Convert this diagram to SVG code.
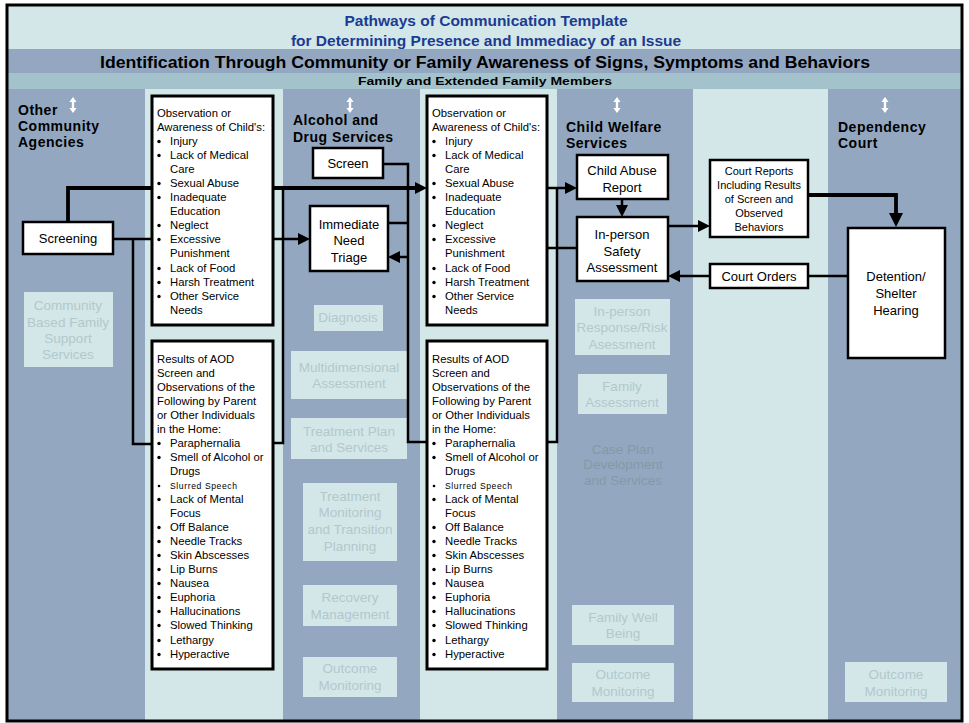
<svg xmlns="http://www.w3.org/2000/svg" width="969" height="723" viewBox="0 0 969 723">
  <defs>
    <style>
      .dark { fill: #93a8c0; }
      .light { fill: #d3e7e8; }
      .title { font-family: "Liberation Sans", Arial, sans-serif; font-weight: bold; fill: #1c3b93; font-size: 15.5px; text-anchor: middle; }
      .band { font-family: "Liberation Sans", Arial, sans-serif; font-weight: bold; fill: #000; text-anchor: middle; }
      .hdr { font-family: "Liberation Sans", Arial, sans-serif; font-weight: bold; font-size: 14px; letter-spacing: 0.5px; fill: #000; }
      .box { fill: #fff; stroke: #000; stroke-width: 2.5; }
      .listbox { fill: #fff; stroke: #000; stroke-width: 3; }
      .lbl { font-family: "Liberation Sans", Arial, sans-serif; font-size: 13px; fill: #000; text-anchor: middle; }
      .small { font-size: 11px; }
      .item { font-family: "Liberation Sans", Arial, sans-serif; font-size: 11.3px; fill: #000; }
      .tiny { font-size: 8.6px; letter-spacing: 0.6px; }
      .dot { fill: #000; }
      .ghost rect { fill: #d3e7e8; }
      .ghost text { font-family: "Liberation Sans", Arial, sans-serif; font-size: 13.5px; fill: #b2c8cd; text-anchor: middle; }
      .faint { font-family: "Liberation Sans", Arial, sans-serif; font-size: 13.5px; fill: #8499a8; text-anchor: middle; }
      .wire { fill: none; stroke: #000; stroke-width: 2.5; }
      .bus { stroke-width: 3.8; }
    </style>
    <marker id="head" viewBox="0 0 12 12" refX="1" refY="6" markerWidth="12" markerHeight="12" markerUnits="userSpaceOnUse" orient="auto">
      <path d="M0,0 L12,6 L0,12 Z" fill="#000"/>
    </marker>
    <marker id="headBig" viewBox="0 0 14 14" refX="1" refY="7" markerWidth="14" markerHeight="14" markerUnits="userSpaceOnUse" orient="auto">
      <path d="M0,0 L14,7 L0,14 Z" fill="#000"/>
    </marker>
    <path id="updown" d="M0,0 L3.6,5 L1.2,5 L1.2,11 L3.6,11 L0,16 L-3.6,11 L-1.2,11 L-1.2,5 L-3.6,5 Z" fill="#fff"/>
  </defs>

  <!-- background bands and swim lanes -->
  <rect x="0" y="0" width="969" height="723" fill="#fff"/>
  <rect x="7" y="5" width="955" height="44" class="light"/>
  <rect x="7" y="49" width="955" height="24" class="dark"/>
  <rect x="7" y="73" width="955" height="16" fill="#a4c2cb"/>
  <rect x="7" y="89" width="138" height="632" class="dark"/>
  <rect x="145" y="89" width="138" height="632" class="light"/>
  <rect x="283" y="89" width="137" height="632" class="dark"/>
  <rect x="420" y="89" width="137" height="632" class="light"/>
  <rect x="557" y="89" width="136" height="632" class="dark"/>
  <rect x="693" y="89" width="135" height="632" class="light"/>
  <rect x="828" y="89" width="134" height="632" class="dark"/>
  <rect x="7" y="5" width="955" height="716" fill="none" stroke="#000" stroke-width="3"/>

  <!-- headings -->
  <text class="title" x="486" y="26">Pathways of Communication Template</text>
  <text class="title" x="486" y="46">for Determining Presence and Immediacy of an Issue</text>
  <text class="band" x="485" y="68" font-size="16" textLength="770" lengthAdjust="spacingAndGlyphs">Identification Through Community or Family Awareness of Signs, Symptoms and Behaviors</text>
  <text class="band" x="485" y="85" font-size="11.5" textLength="254" lengthAdjust="spacingAndGlyphs">Family and Extended Family Members</text>

  <!-- lane titles -->
  <g id="lane-community">
    <text class="hdr" x="18" y="115">Other</text>
    <text class="hdr" x="18" y="131">Community</text>
    <text class="hdr" x="18" y="147">Agencies</text>
    <use href="#updown" x="73" y="97"/>
  </g>
  <g id="lane-aod">
    <text class="hdr" x="293" y="125">Alcohol and</text>
    <text class="hdr" x="293" y="142">Drug Services</text>
    <use href="#updown" x="350" y="97"/>
  </g>
  <g id="lane-cws">
    <text class="hdr" x="566" y="132">Child Welfare</text>
    <text class="hdr" x="566" y="148">Services</text>
    <use href="#updown" x="617" y="97"/>
  </g>
  <g id="lane-court">
    <text class="hdr" x="838" y="132">Dependency</text>
    <text class="hdr" x="838" y="148">Court</text>
    <use href="#updown" x="885" y="97"/>
  </g>

  <!-- later-stage services (muted) -->
  <g class="ghost">
    <g id="cbfs"><rect x="24" y="292" width="89" height="75"/>
      <text x="68" y="310">Community</text><text x="68" y="327">Based Family</text><text x="68" y="343">Support</text><text x="68" y="359">Services</text></g>
    <g id="diagnosis"><rect x="314" y="305" width="69" height="26"/><text x="348" y="322">Diagnosis</text></g>
    <g id="multi"><rect x="291" y="351" width="116" height="48"/><text x="349" y="372">Multidimensional</text><text x="349" y="388">Assessment</text></g>
    <g id="txplan"><rect x="291" y="418" width="116" height="41"/><text x="349" y="436">Treatment Plan</text><text x="349" y="452">and Services</text></g>
    <g id="txmon"><rect x="303" y="483" width="94" height="78"/><text x="350" y="501">Treatment</text><text x="350" y="517">Monitoring</text><text x="350" y="534">and Transition</text><text x="350" y="551">Planning</text></g>
    <g id="recovery"><rect x="303" y="585" width="94" height="41"/><text x="350" y="602">Recovery</text><text x="350" y="619">Management</text></g>
    <g id="outcome-aod"><rect x="303" y="657" width="94" height="40"/><text x="350" y="673">Outcome</text><text x="350" y="690">Monitoring</text></g>
    <g id="response"><rect x="575" y="299" width="95" height="56"/><text x="622" y="316">In-person</text><text x="622" y="332">Response/Risk</text><text x="622" y="349">Asessment</text></g>
    <g id="famassess"><rect x="578" y="374" width="89" height="40"/><text x="622" y="391">Family</text><text x="622" y="407">Assessment</text></g>
    <g id="wellbeing"><rect x="572" y="605" width="102" height="40"/><text x="623" y="622">Family Well</text><text x="623" y="638">Being</text></g>
    <g id="outcome-cws"><rect x="572" y="663" width="102" height="39"/><text x="623" y="679">Outcome</text><text x="623" y="696">Monitoring</text></g>
    <g id="outcome-court"><rect x="845" y="662" width="102" height="40"/><text x="896" y="679">Outcome</text><text x="896" y="696">Monitoring</text></g>
  </g>
  <g id="caseplan">
    <text class="faint" x="623" y="454">Case Plan</text>
    <text class="faint" x="623" y="469">Development</text>
    <text class="faint" x="623" y="485">and Services</text>
  </g>

  <!-- connectors -->
  <g id="connectors">
    <path class="wire bus" d="M68,222 V188 H416" marker-end="url(#head)"/>
    <path class="wire" d="M113,239 H152"/>
    <path class="wire" d="M133,239 V444 H152"/>
    <path class="wire" d="M283,188 V443 H273"/>
    <path class="wire" d="M273,239 H299" marker-end="url(#head)"/>
    <path class="wire" d="M383,164 H408 V442 H427"/>
    <path class="wire" d="M388,223 H408"/>
    <path class="wire" d="M408,257 H399" marker-end="url(#head)"/>
    <path class="wire" stroke-width="3" d="M547,188 H566" marker-end="url(#head)"/>
    <path class="wire" d="M557,188 V442 H547"/>
    <path class="wire" d="M547,248 H577"/>
    <path class="wire" d="M622,199 V206" marker-end="url(#head)"/>
    <path class="wire" d="M668,226 H699" marker-end="url(#head)"/>
    <path class="wire bus" d="M808,195 H896 V214" marker-end="url(#headBig)"/>
    <path class="wire" d="M848,276 H808"/>
    <path class="wire" d="M710,276 H679" marker-end="url(#head)"/>
  </g>

  <!-- process nodes -->
  <g id="screening"><rect class="box" x="23" y="222" width="90" height="32"/><text class="lbl" x="68" y="243">Screening</text></g>
  <g id="screen"><rect class="box" x="313" y="148" width="70" height="30"/><text class="lbl" x="348" y="168">Screen</text></g>
  <g id="triage"><rect class="box" x="310" y="206" width="78" height="65"/>
    <text class="lbl" x="349" y="229">Immediate</text><text class="lbl" x="349" y="245">Need</text><text class="lbl" x="349" y="262">Triage</text></g>
  <g id="abuse-report"><rect class="box" x="577" y="155" width="91" height="44"/>
    <text class="lbl" x="622" y="175">Child Abuse</text><text class="lbl" x="622" y="192">Report</text></g>
  <g id="safety"><rect class="box" x="577" y="217" width="91" height="64"/>
    <text class="lbl" x="622" y="239">In-person</text><text class="lbl" x="622" y="256">Safety</text><text class="lbl" x="622" y="272">Assessment</text></g>
  <g id="court-reports"><rect class="box" x="710" y="160" width="98" height="77"/>
    <text class="lbl small" x="759" y="175">Court Reports</text><text class="lbl small" x="759" y="189">Including Results</text>
    <text class="lbl small" x="759" y="203">of Screen and</text><text class="lbl small" x="759" y="217">Observed</text><text class="lbl small" x="759" y="231">Behaviors</text></g>
  <g id="court-orders"><rect class="box" x="710" y="264" width="98" height="24"/><text class="lbl" font-size="12" x="759" y="281">Court Orders</text></g>
  <g id="hearing"><rect class="box" x="848" y="228" width="97" height="130"/>
    <text class="lbl" x="896" y="281">Detention/</text><text class="lbl" x="896" y="298">Shelter</text><text class="lbl" x="896" y="315">Hearing</text></g>

  <!-- observation checklist, community side -->
  <g id="obs-community">
    <rect class="listbox" x="152" y="96" width="121" height="229"/>
    <g class="item">
      <text x="157" y="117">Observation or</text>
      <text x="157" y="131">Awareness of Child's:</text>
      <text x="170" y="145">Injury</text>
      <text x="170" y="159">Lack of Medical</text>
      <text x="170" y="173">Care</text>
      <text x="170" y="187">Sexual Abuse</text>
      <text x="170" y="201">Inadequate</text>
      <text x="170" y="215">Education</text>
      <text x="170" y="229">Neglect</text>
      <text x="170" y="243">Excessive</text>
      <text x="170" y="257">Punishment</text>
      <text x="170" y="272">Lack of Food</text>
      <text x="170" y="286">Harsh Treatment</text>
      <text x="170" y="300">Other Service</text>
      <text x="170" y="314">Needs</text>
    </g>
    <g class="dot">
      <circle cx="159" cy="141.5" r="1.7"/><circle cx="159" cy="155.5" r="1.7"/><circle cx="159" cy="183.5" r="1.7"/>
      <circle cx="159" cy="197.5" r="1.7"/><circle cx="159" cy="225.5" r="1.7"/><circle cx="159" cy="239.5" r="1.7"/>
      <circle cx="159" cy="268.5" r="1.7"/><circle cx="159" cy="282.5" r="1.7"/><circle cx="159" cy="296.5" r="1.7"/>
    </g>
  </g>

  <!-- AOD results checklist, community side -->
  <g id="aod-community">
    <rect class="listbox" x="152" y="341" width="121" height="328"/>
    <g class="item">
      <text x="157" y="363">Results of AOD</text>
      <text x="157" y="377">Screen and</text>
      <text x="157" y="391">Observations of the</text>
      <text x="157" y="405">Following by Parent</text>
      <text x="157" y="419">or Other Individuals</text>
      <text x="157" y="433">in the Home:</text>
      <text x="170" y="447">Paraphernalia</text>
      <text x="170" y="461">Smell of Alcohol or</text>
      <text x="170" y="475">Drugs</text>
      <text x="170" y="489" class="tiny">Slurred Speech</text>
      <text x="170" y="503">Lack of Mental</text>
      <text x="170" y="517">Focus</text>
      <text x="170" y="531">Off Balance</text>
      <text x="170" y="545">Needle Tracks</text>
      <text x="170" y="559">Skin Abscesses</text>
      <text x="170" y="573">Lip Burns</text>
      <text x="170" y="587">Nausea</text>
      <text x="170" y="601">Euphoria</text>
      <text x="170" y="615">Hallucinations</text>
      <text x="170" y="629">Slowed Thinking</text>
      <text x="170" y="644">Lethargy</text>
      <text x="170" y="658">Hyperactive</text>
    </g>
    <g class="dot">
      <circle cx="159" cy="443.5" r="1.7"/><circle cx="159" cy="457.5" r="1.7"/><circle cx="159" cy="486" r="1.3"/>
      <circle cx="159" cy="499.5" r="1.7"/><circle cx="159" cy="527.5" r="1.7"/><circle cx="159" cy="541.5" r="1.7"/>
      <circle cx="159" cy="555.5" r="1.7"/><circle cx="159" cy="569.5" r="1.7"/><circle cx="159" cy="583.5" r="1.7"/>
      <circle cx="159" cy="597.5" r="1.7"/><circle cx="159" cy="611.5" r="1.7"/><circle cx="159" cy="625.5" r="1.7"/>
      <circle cx="159" cy="640.5" r="1.7"/><circle cx="159" cy="654.5" r="1.7"/>
    </g>
  </g>

  <!-- observation checklist, AOD side -->
  <g id="obs-aod">
    <rect class="listbox" x="427" y="96" width="120" height="229"/>
    <g class="item">
      <text x="432" y="117">Observation or</text>
      <text x="432" y="131">Awareness of Child's:</text>
      <text x="445" y="145">Injury</text>
      <text x="445" y="159">Lack of Medical</text>
      <text x="445" y="173">Care</text>
      <text x="445" y="187">Sexual Abuse</text>
      <text x="445" y="201">Inadequate</text>
      <text x="445" y="215">Education</text>
      <text x="445" y="229">Neglect</text>
      <text x="445" y="243">Excessive</text>
      <text x="445" y="257">Punishment</text>
      <text x="445" y="272">Lack of Food</text>
      <text x="445" y="286">Harsh Treatment</text>
      <text x="445" y="300">Other Service</text>
      <text x="445" y="314">Needs</text>
    </g>
    <g class="dot">
      <circle cx="434" cy="141.5" r="1.7"/><circle cx="434" cy="155.5" r="1.7"/><circle cx="434" cy="183.5" r="1.7"/>
      <circle cx="434" cy="197.5" r="1.7"/><circle cx="434" cy="225.5" r="1.7"/><circle cx="434" cy="239.5" r="1.7"/>
      <circle cx="434" cy="268.5" r="1.7"/><circle cx="434" cy="282.5" r="1.7"/><circle cx="434" cy="296.5" r="1.7"/>
    </g>
  </g>

  <!-- AOD results checklist, AOD side -->
  <g id="aod-aod">
    <rect class="listbox" x="427" y="341" width="120" height="328"/>
    <g class="item">
      <text x="432" y="363">Results of AOD</text>
      <text x="432" y="377">Screen and</text>
      <text x="432" y="391">Observations of the</text>
      <text x="432" y="405">Following by Parent</text>
      <text x="432" y="419">or Other Individuals</text>
      <text x="432" y="433">in the Home:</text>
      <text x="445" y="447">Paraphernalia</text>
      <text x="445" y="461">Smell of Alcohol or</text>
      <text x="445" y="475">Drugs</text>
      <text x="445" y="489" class="tiny">Slurred Speech</text>
      <text x="445" y="503">Lack of Mental</text>
      <text x="445" y="517">Focus</text>
      <text x="445" y="531">Off Balance</text>
      <text x="445" y="545">Needle Tracks</text>
      <text x="445" y="559">Skin Abscesses</text>
      <text x="445" y="573">Lip Burns</text>
      <text x="445" y="587">Nausea</text>
      <text x="445" y="601">Euphoria</text>
      <text x="445" y="615">Hallucinations</text>
      <text x="445" y="629">Slowed Thinking</text>
      <text x="445" y="644">Lethargy</text>
      <text x="445" y="658">Hyperactive</text>
    </g>
    <g class="dot">
      <circle cx="434" cy="443.5" r="1.7"/><circle cx="434" cy="457.5" r="1.7"/><circle cx="434" cy="486" r="1.3"/>
      <circle cx="434" cy="499.5" r="1.7"/><circle cx="434" cy="527.5" r="1.7"/><circle cx="434" cy="541.5" r="1.7"/>
      <circle cx="434" cy="555.5" r="1.7"/><circle cx="434" cy="569.5" r="1.7"/><circle cx="434" cy="583.5" r="1.7"/>
      <circle cx="434" cy="597.5" r="1.7"/><circle cx="434" cy="611.5" r="1.7"/><circle cx="434" cy="625.5" r="1.7"/>
      <circle cx="434" cy="640.5" r="1.7"/><circle cx="434" cy="654.5" r="1.7"/>
    </g>
  </g>
</svg>
